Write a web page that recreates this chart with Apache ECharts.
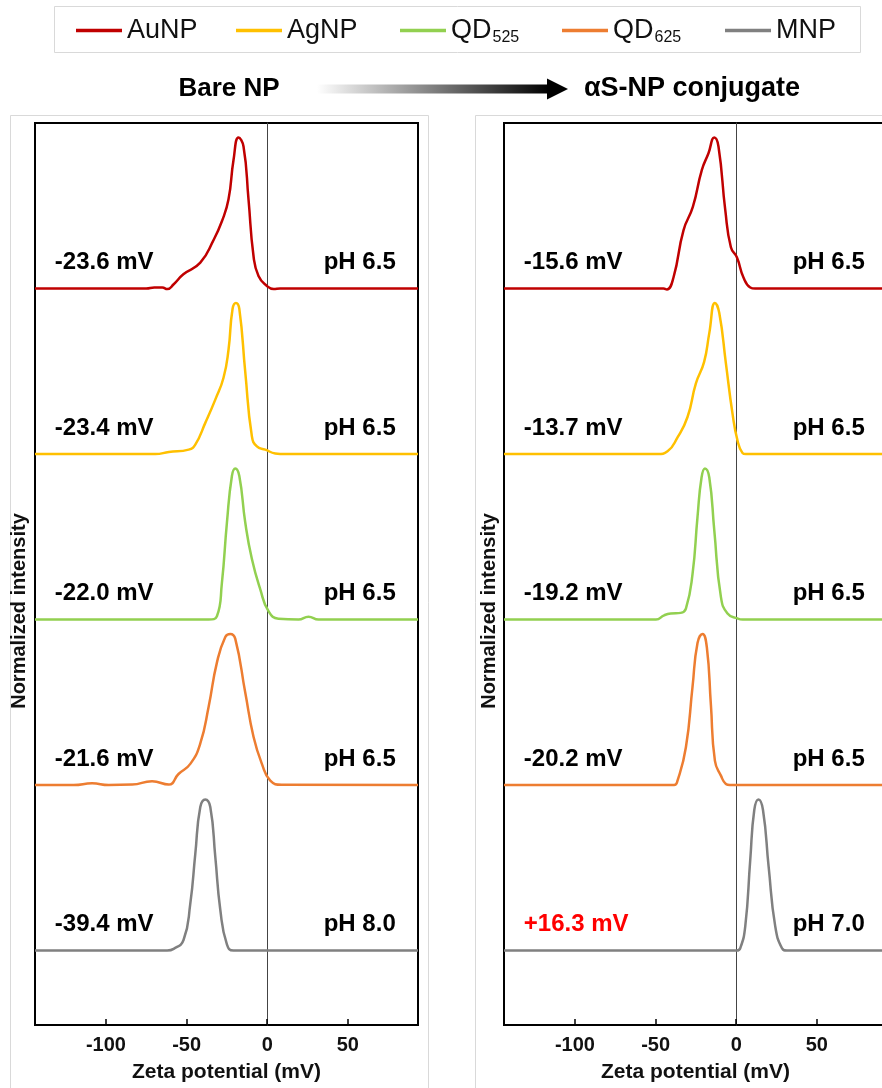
<!DOCTYPE html>
<html>
<head>
<meta charset="utf-8">
<script src="https://cdn.jsdelivr.net/npm/echarts@6/dist/echarts.min.js"></script>
<style>
  html, body { margin:0; padding:0; background:#fff; }
  #chart { width:882px; height:1088px; }
</style>
</head>
<body>
<div id="chart"></div>
<script>
// ---------- data (zeta potential mV, normalized intensity) ----------
const seriesNames = ['AuNP', 'AgNP', 'QD525', 'QD625', 'MNP'];
const seriesColors = ['#C00000', '#FFC000', '#92D050', '#ED7D31', '#808080'];

const bareAuNP = [[-144,0],[-75,0],[-70,0.007],[-65,0.006],[-62,-0.004],[-58,0.028],[-52,0.094],[-41.5,0.171],[-33.3,0.32],[-28.1,0.445],[-24,0.59],[-20.9,0.85],[-17.8,1.0],[-14.7,0.94],[-11.6,0.59],[-8.5,0.215],[-5.4,0.083],[-0.2,0.017],[4,-0.004],[8,0],[93.5,0]];
const bareAgNP = [[-144,0],[-69.4,0],[-61,0.013],[-48.7,0.029],[-44.6,0.062],[-38.4,0.206],[-32.2,0.36],[-27.1,0.505],[-24,0.69],[-21.5,0.96],[-19.4,1.0],[-17.3,0.96],[-13.6,0.54],[-9.5,0.117],[-6.4,0.05],[-1.2,0.029],[5,0.003],[8,0],[93.5,0]];
const bareQD525 = [[-144,0],[-36.3,0],[-31.2,0.022],[-28.1,0.243],[-25,0.64],[-21.9,0.95],[-19.8,1.0],[-17.3,0.95],[-13.6,0.64],[-9.5,0.4],[-4.3,0.2],[0.8,0.055],[7,0.005],[19.4,0],[25.6,0.018],[31.8,0],[93.5,0]];
const bareQD625 = [[-144,0],[-120,0],[-108.6,0.011],[-98.3,0],[-83.8,0.003],[-71.4,0.025],[-61.1,0.003],[-55,0.073],[-47.7,0.14],[-41.5,0.275],[-36.3,0.52],[-31.2,0.81],[-26,0.98],[-22.9,1.0],[-19.8,0.967],[-13.6,0.61],[-8.5,0.32],[-3.3,0.14],[1.9,0.029],[9.1,0.002],[93.5,0]];
const bareMNP = [[-144,0],[-62,0],[-58,0.011],[-51.9,0.07],[-47.7,0.31],[-44.6,0.64],[-41.5,0.95],[-38.4,1.0],[-35.3,0.95],[-32.2,0.62],[-29.1,0.27],[-25,0.04],[-20.9,0],[93.5,0]];

const conjAuNP = [[-144,0],[-45.1,0],[-43,-0.006],[-38.9,0.073],[-32.7,0.385],[-26.9,0.54],[-21.3,0.785],[-17.2,0.895],[-13.6,1.0],[-11,0.94],[-6.8,0.52],[-3.3,0.273],[0.4,0.207],[4.5,0.073],[8.7,0.007],[11.8,0],[93.5,0]];
const conjAgNP = [[-144,0],[-48.8,0],[-42.6,0.018],[-36.4,0.11],[-30.2,0.245],[-25,0.467],[-19.9,0.61],[-16.7,0.8],[-13.2,1.0],[-10.5,0.933],[-6.4,0.6],[-2.3,0.267],[0.8,0.089],[3.9,0.007],[6,0],[93.5,0]];
const conjQD525 = [[-144,0],[-49.8,0],[-44.7,0.028],[-40.6,0.04],[-34.4,0.044],[-31.2,0.072],[-27.1,0.3],[-24,0.68],[-21.5,0.94],[-19.4,1.0],[-16.7,0.94],[-13.6,0.59],[-9.5,0.15],[-5.4,0.04],[0.8,0.007],[4,0],[93.5,0]];
const conjQD625 = [[-144,0],[-38.5,0],[-36.4,0.029],[-31.2,0.25],[-27.1,0.65],[-24,0.94],[-20.9,1.0],[-18.2,0.91],[-15.7,0.53],[-13.2,0.16],[-9.5,0.062],[-6.4,0.007],[-4,0],[93.5,0]];
const conjMNP = [[-144,0],[0.4,0],[2.5,0.015],[5.6,0.16],[8.7,0.6],[11.2,0.93],[13.8,1.0],[16.6,0.93],[20.1,0.555],[24.2,0.16],[28.4,0.015],[31.5,0],[93.5,0]];

const bareZeta = ['-23.6 mV', '-23.4 mV', '-22.0 mV', '-21.6 mV', '-39.4 mV'];
const barePH = ['pH 6.5', 'pH 6.5', 'pH 6.5', 'pH 6.5', 'pH 8.0'];
const conjZeta = ['-15.6 mV', '-13.7 mV', '-19.2 mV', '-20.2 mV', '+16.3 mV'];
const conjPH = ['pH 6.5', 'pH 6.5', 'pH 6.5', 'pH 6.5', 'pH 7.0'];
const conjZetaColors = ['#000', '#000', '#000', '#000', '#FF0000'];

const xTicks = [-100, -50, 0, 50];
const xMin = -144, xMax = 93.5;
// vertical stacking of the normalized traces
const baseOffsets = [4.45, 3.45, 2.45, 1.45, 0.45];
const peakScale = 0.913;
const yMax = 5.45;

// ---------- build ----------
const FONT = "'Liberation Sans', Arial, sans-serif";
const panels = [
  { data: [bareAuNP, bareAgNP, bareQD525, bareQD625, bareMNP], zeta: bareZeta, ph: barePH, zc: ['#000','#000','#000','#000','#000'] },
  { data: [conjAuNP, conjAgNP, conjQD525, conjQD625, conjMNP], zeta: conjZeta, ph: conjPH, zc: conjZetaColors }
];

const series = [];
panels.forEach((p, gi) => {
  p.data.forEach((arr, k) => {
    series.push({
      type: 'line', name: seriesNames[k], xAxisIndex: gi, yAxisIndex: gi,
      data: arr.map(d => [d[0], baseOffsets[k] + d[1] * peakScale]),
      smooth: 0.5, symbol: 'none', silent: true,
      lineStyle: { color: seriesColors[k], width: 2.5 },
      itemStyle: { color: seriesColors[k] }, z: 3
    });
  });
  const labelY = 0.157;
  series.push({
    type: 'scatter', xAxisIndex: gi, yAxisIndex: gi, symbolSize: 1, silent: true,
    itemStyle: { color: 'rgba(0,0,0,0)', opacity: 1 }, z: 4,
    data: p.zeta.map((t, k) => ({
      value: [-132, baseOffsets[k] + labelY],
      label: { show: true, position: 'right', distance: 0, formatter: t,
        fontFamily: FONT, fontWeight: 'bold', fontSize: 24, color: p.zc[k] }
    }))
  });
  series.push({
    type: 'scatter', xAxisIndex: gi, yAxisIndex: gi, symbolSize: 1, silent: true,
    itemStyle: { color: 'rgba(0,0,0,0)', opacity: 1 }, z: 4,
    data: p.ph.map((t, k) => ({
      value: [80, baseOffsets[k] + labelY],
      label: { show: true, position: 'left', distance: 0, formatter: t,
        fontFamily: FONT, fontWeight: 'bold', fontSize: 24, color: '#000' }
    }))
  });
});

const legendLefts = [76, 236, 400, 562, 725];
const legends = seriesNames.map((n, i) => ({
  data: [n], left: legendLefts[i], top: 17, padding: 0, icon: 'rect',
  itemWidth: 46, itemHeight: 3.5, selectedMode: false,
  formatter: name => name.startsWith('QD') ? '{m|QD}{s|' + name.slice(2) + '}' : '{m|' + name + '}',
  textStyle: { fontFamily: FONT, fontSize: 27, color: '#111',
    rich: { m: { fontFamily: FONT, fontSize: 27, color: '#111', lineHeight: 30 },
            s: { fontFamily: FONT, fontSize: 16, color: '#111', lineHeight: 30, verticalAlign: 'bottom', padding: [0,0,0,1] } } }
}));

const grids = [35, 504].map(l => ({ left: l, top: 123, width: 383, height: 902, show: true,
  outerBoundsMode: 'none', containLabel: false,
  borderColor: '#000', borderWidth: 2, backgroundColor: 'transparent' }));

const option = {
  animation: false,
  backgroundColor: '#fff',
  grid: grids,
  legend: legends,
  xAxis: [0, 1].map(i => ({
    type: 'value', gridIndex: i, min: xMin, max: xMax,
    name: 'Zeta potential (mV)', nameLocation: 'middle', nameGap: 37,
    nameTextStyle: { fontFamily: FONT, fontWeight: 'bold', fontSize: 21, color: '#111' },
    axisLine: { show: false },
    axisTick: { show: true, inside: true, length: 6, customValues: xTicks, lineStyle: { color: '#000', width: 1.5 } },
    axisLabel: { customValues: xTicks, fontFamily: FONT, fontWeight: 'bold', fontSize: 20, color: '#111', margin: 10 },
    splitLine: { show: false }
  })),
  yAxis: [0, 1].map(i => ({
    type: 'value', gridIndex: i, min: 0, max: yMax,
    axisLine: { show: true, onZero: true, lineStyle: { color: '#444', width: 1 } },
    axisTick: { show: false }, axisLabel: { show: false }, splitLine: { show: false }
  })),
  graphic: [
    { type: 'rect', silent: true, shape: { x: 54.5, y: 6.5, width: 806, height: 46 }, style: { fill: 'none', stroke: '#d9d9d9', lineWidth: 1 } },
    { type: 'rect', silent: true, shape: { x: 10.5, y: 115.5, width: 418, height: 1000 }, style: { fill: 'none', stroke: '#d9d9d9', lineWidth: 1 } },
    { type: 'rect', silent: true, shape: { x: 475.5, y: 115.5, width: 500, height: 1000 }, style: { fill: 'none', stroke: '#d9d9d9', lineWidth: 1 } },
    { type: 'text', silent: true, x: 229, y: 89, style: { text: 'Bare NP', fontFamily: FONT, fontWeight: 'bold', fontSize: 26, fill: '#000', align: 'center', verticalAlign: 'middle' } },
    { type: 'text', silent: true, x: 584, y: 89, style: { text: 'αS-NP conjugate', fontFamily: FONT, fontWeight: 'bold', fontSize: 27, fill: '#000', align: 'left', verticalAlign: 'middle' } },
    { type: 'rect', silent: true, shape: { x: 317, y: 84.5, width: 232, height: 9 },
      style: { fill: new echarts.graphic.LinearGradient(0, 0, 1, 0, [{ offset: 0, color: '#ffffff' }, { offset: 1, color: '#000000' }]) } },
    { type: 'polygon', silent: true, shape: { points: [[547, 78.5], [568, 89], [547, 99.5]] }, style: { fill: '#000' } },
    { type: 'text', silent: true, x: 19, y: 611, rotation: Math.PI / 2, style: { text: 'Normalized intensity', fontFamily: FONT, fontWeight: 'bold', fontSize: 20, fill: '#111', align: 'center', verticalAlign: 'middle' } },
    { type: 'text', silent: true, x: 489, y: 611, rotation: Math.PI / 2, style: { text: 'Normalized intensity', fontFamily: FONT, fontWeight: 'bold', fontSize: 20, fill: '#111', align: 'center', verticalAlign: 'middle' } }
  ],
  series: series
};

const chart = echarts.init(document.getElementById('chart'), null, { renderer: 'canvas' });
chart.setOption(option);
</script>
</body>
</html>
